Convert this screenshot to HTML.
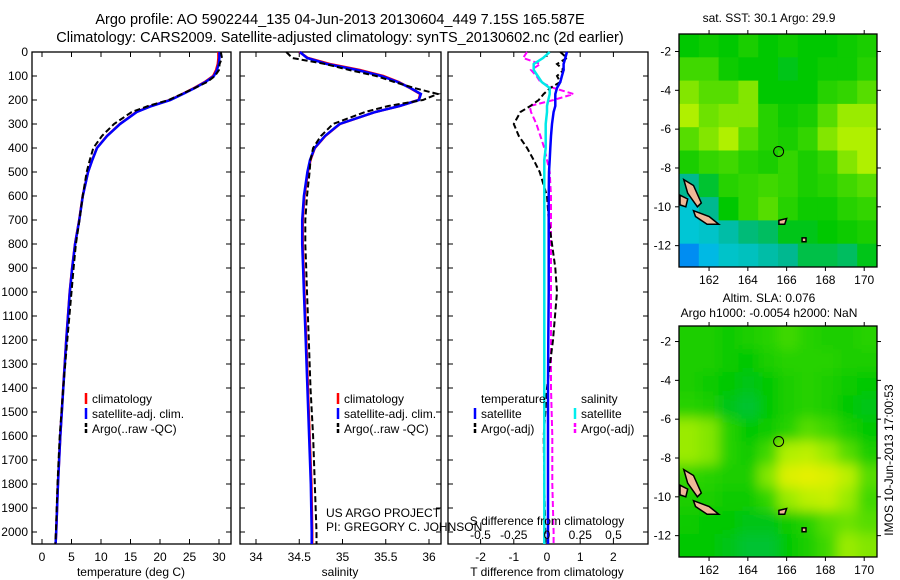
<!DOCTYPE html>
<html><head><meta charset="utf-8"><style>
html,body{margin:0;padding:0;background:#fff;}
svg{display:block;font-family:"Liberation Sans",sans-serif;}
</style></head><body>
<svg id="fig" width="900" height="580" xmlns="http://www.w3.org/2000/svg">
<defs><filter id="blur" x="0" y="0" width="100%" height="100%"><feGaussianBlur stdDeviation="6"/></filter>
<clipPath id="c1"><rect x="679" y="34" width="198" height="233"/></clipPath>
<clipPath id="c2"><rect x="679" y="326" width="198" height="231"/></clipPath></defs>
<g font-size="14.5" text-anchor="middle" fill="#000">
<text x="340" y="24">Argo profile: AO 5902244_135 04-Jun-2013 20130604_449 7.15S 165.587E</text>
<text x="340" y="42">Climatology: CARS2009. Satellite-adjusted climatology: synTS_20130602.nc (2d earlier)</text>
</g>
<g id="layer"></g>
</svg>
<script>
// ---- data ----
const depths = [0,25,50,75,100,125,150,175,200,225,250,300,350,400,450,500,600,700,800,900,1000,1200,1400,1600,1800,2000,2050];
const tempClim = [29.9,29.9,29.8,29.5,29.0,27.6,25.8,23.8,21.7,18.5,16.0,13.2,11.0,9.3,8.5,7.8,6.9,6.3,5.6,5.1,4.7,4.1,3.6,3.1,2.7,2.4,2.3];
const tempSatDiff = [0.6,0.55,0.5,0.5,0.45,0.4,0.3,0.25,0.25,0.25,0.2,0.15,0.12,0.1,0.08,0.06,0.05,0.05,0.05,0.05,0.05,0.04,0.03,0.03,0.03,0.03,0.03];
const tempArgoDiff = [0.4,0.6,0.3,0.5,0.3,0.4,0.1,-0.1,-0.25,-0.5,-0.8,-1.0,-0.85,-0.6,-0.4,-0.22,0,0.05,0.15,0.25,0.3,0.18,0,-0.1,-0.08,-0.05,-0.05];
const salClim = [34.5,34.6,34.85,35.2,35.47,35.65,35.78,35.9,35.88,35.66,35.38,34.97,34.8,34.68,34.63,34.6,34.56,34.54,34.54,34.55,34.56,34.58,34.6,34.62,34.64,34.65,34.65];
const salSatDiff = [0.02,-0.03,-0.1,-0.1,-0.07,-0.04,0.02,0.02,0.01,0,0,-0.01,-0.01,-0.01,-0.02,-0.02,-0.02,-0.02,-0.02,-0.02,-0.02,-0.02,-0.02,-0.02,-0.02,-0.02,-0.02];
const salArgoDiff = [-0.15,-0.18,-0.05,-0.12,-0.08,-0.05,0.05,0.2,0.05,-0.13,-0.12,-0.08,-0.05,-0.02,0,0.02,0.03,0.03,0.03,0.03,0.03,0.03,0.03,0.04,0.04,0.05,0.05];
const depthTicks = [0,100,200,300,400,500,600,700,800,900,1000,1100,1200,1300,1400,1500,1600,1700,1800,1900,2000];
const tempTicks = [0,5,10,15,20,25,30];
const salTicks = [34,34.5,35,35.5,36];
const tdiffTicks = [-2,-1,0,1,2];
const sdiffTicks = [-0.5,-0.25,0,0.25,0.5];
const sdiffLabels = ["-0.5","-0.25","0","0.25","0.5"];
const lonTicks = [162,164,166,168,170];
const latTicks = [-2,-4,-6,-8,-10,-12];
const sstGrid = [
[3,3.1,3,3.2,3,3.1,3,3,3.1,3.2],
[3.5,3.5,3.1,3,3,2.9,3,3.1,3.1,3.3],
[3.8,3.6,3.6,3.8,3,3,3,3.3,3.4,3.6],
[4,3.7,3.8,3.8,3.3,3.1,3.2,3.6,3.9,3.9],
[3.6,3.8,4,3.6,3.3,3.2,3.4,3.8,4,4],
[3.2,3.4,3.5,3.3,3.2,3.4,3.2,3.4,3.8,4],
[2.4,2.8,3.3,3.4,3.5,3.4,3.2,3.3,3.5,3.6],
[1.8,2.4,3,3.4,3.6,3.3,3.1,3.1,3.3,3.4],
[1.8,1.9,2.2,2.5,2.6,2.9,2.9,3,3.1,3.2],
[1.3,1.6,1.9,2,2.2,2.4,2.7,2.7,2.6,2.9]];
const slaGrid = [
[3.2,3.2,3.1,3.2,3.3,3.5,3.3,3.2,3.2,3.3],
[3.2,3.2,3.1,3.0,3.2,3.3,3.3,3.3,3.2,3.2],
[3.2,3.1,3.0,2.9,3.0,3.2,3.3,3.2,3.1,3.0],
[3.3,3.2,2.9,2.8,3.0,3.2,3.3,3.2,3.0,2.9],
[3.9,3.8,3.3,3.0,3.1,3.3,3.6,3.5,3.2,3.0],
[3.9,3.8,3.3,3.1,3.5,4.0,4.1,3.9,3.6,3.2],
[3.4,3.3,3.2,3.2,3.8,4.4,4.5,4.4,4.1,3.6],
[3.2,3.2,3.1,3.1,3.4,3.9,4.1,4.2,3.9,3.5],
[3.1,3.0,3.0,2.9,2.9,3.1,3.3,3.6,3.7,3.6],
[3.0,3.0,2.9,2.8,2.8,3.0,3.2,3.5,3.9,3.8]];
const floatLon = 165.587, floatLat = -7.15;

// ---- helpers ----
const NS="http://www.w3.org/2000/svg";
const layer=document.getElementById('layer');
function mk(tag,attrs,parent){const e=document.createElementNS(NS,tag);for(const k in attrs)e.setAttribute(k,attrs[k]);(parent||layer).appendChild(e);return e;}
function txt(x,y,s,anchor,size,parent){const t=mk('text',{x:x,y:y,'text-anchor':anchor||'middle','font-size':size||12},parent);t.textContent=s;return t;}
const yD = d => 52 + d*0.24;
function pathOf(xs,ys){return xs.map((x,i)=>(i?'L':'M')+x.toFixed(1)+','+ys[i].toFixed(1)).join(' ');}

function panel(name,x0,x1,ticks,labels,xf,showDepth){
  const g=mk('g',{});
  
  
  const r=mk('rect',{x:x0,y:52,width:x1-x0,height:492,fill:'none',stroke:'#000','stroke-width':1.3},g);
  
  
  ticks.forEach((t,i)=>{const x=xf(t);
    mk('line',{x1:x,x2:x,y1:544,y2:539,stroke:'#000'},g);mk('line',{x1:x,x2:x,y1:52,y2:57,stroke:'#000'},g);
    const l=txt(x,561,labels?labels[i]:String(t),'middle',12,g);
    
    });
  depthTicks.forEach(d=>{const y=yD(d);
    mk('line',{x1:x0,x2:x0+5,y1:y,y2:y,stroke:'#000'},g);mk('line',{x1:x1,x2:x1-5,y1:y,y2:y,stroke:'#000'},g);
    if(showDepth){const l=txt(x0-4,y+4,String(d),'end',12,g);
      
      }});
  return g;
}
function series(g,name,xs,color,dash,w){
  const p=mk('path',{d:pathOf(xs,depths.map(yD)),fill:'none',stroke:color,'stroke-width':w||2,'stroke-dasharray':dash||'none'},g);
  
  
}
function legend(g,x,y,items){
  items.forEach((it,i)=>{const yy=y+i*15;
    if(it.c){mk('line',{x1:x,x2:x,y1:yy-10,y2:yy+1,stroke:it.c,'stroke-width':2.5,'stroke-dasharray':it.d||'none'},g);}
    const t=txt(x+6,yy,it.t,'start',12,g);
    
    });
}

// ---- temperature panel ----
const xT = t => 42 + t*5.9;
const gT=panel('temperature-panel',32,231,tempTicks,null,xT,true);
series(gT,'temp-climatology-line',tempClim.map(xT),'#ff0000',null,2.5);
series(gT,'temp-satellite-line',tempClim.map((v,i)=>xT(v+tempSatDiff[i]*0.3)),'#0000ff',null,2.5);
series(gT,'temp-argo-line',tempClim.map((v,i)=>xT(v+tempArgoDiff[i])),'#000','6,3',2);
legend(gT,86,403,[{t:'climatology',c:'#f00'},{t:'satellite-adj. clim.',c:'#00f'},{t:'Argo(..raw -QC)',c:'#000',d:'4,2'}]);
let t1=txt(131,576,'temperature (deg C)','middle',12,gT);

// ---- salinity panel ----
const xS = s => 256 + (s-34)*86.5;
const gS=panel('salinity-panel',240,441,salTicks,null,xS,false);
series(gS,'sal-climatology-line',salClim.map(xS),'#ff0000',null,2.5);
series(gS,'sal-satellite-line',salClim.map((v,i)=>xS(v+salSatDiff[i]*0.3)),'#0000ff',null,2.5);
series(gS,'sal-argo-line',salClim.map((v,i)=>xS(v+salArgoDiff[i])),'#000','6,3',2);
legend(gS,338,403,[{t:'climatology',c:'#f00'},{t:'satellite-adj. clim.',c:'#00f'},{t:'Argo(..raw -QC)',c:'#000',d:'4,2'}]);
let t2=txt(340,576,'salinity','middle',12,gS);
let pr=txt(326,517,'US ARGO PROJECT','start',12,gS);
let pi=txt(326,531,'PI: GREGORY C. JOHNSON','start',12,gS);

// ---- difference panel ----
const xTd = d => 547 + d*33.2;
const xSd = d => 547 + d*133;
const gD=panel('difference-panel',448,648,tdiffTicks,null,xTd,false);
series(gD,'sdiff-argo-line',salArgoDiff.map(xSd),'#ff00ff','6,3',2);
series(gD,'tdiff-argo-line',tempArgoDiff.map(xTd),'#000','6,3',2);
series(gD,'tdiff-satellite-line',tempSatDiff.map(xTd),'#0000ff',null,2.5);
series(gD,'sdiff-satellite-line',salSatDiff.map(xSd),'#00e8e8',null,2.5);
sdiffTicks.forEach((t,i)=>{const l=txt(xSd(t),539,sdiffLabels[i],'middle',12,gD);});
let t3=txt(547,525,'S difference from climatology','middle',12,gD);
let t4=txt(547,576,'T difference from climatology','middle',12,gD);
legend(gD,475,403,[{t:'temperature'},{t:'satellite',c:'#00f'},{t:'Argo(-adj)',c:'#000',d:'4,2'}]);
legend(gD,575,403,[{t:'salinity'},{t:'satellite',c:'#0ee'},{t:'Argo(-adj)',c:'#f0f',d:'4,2'}]);

// ---- maps ----
const stops=[[0,[0,0,128]],[1,[0,96,255]],[1.7,[0,200,224]],[2.4,[0,184,144]],[3,[0,200,0]],[3.5,[64,216,0]],[4,[176,240,0]],[4.6,[240,240,0]]];
function cmap(v){for(let i=1;i<stops.length;i++){if(v<=stops[i][0]){const a=stops[i-1],b=stops[i],f=(v-a[0])/(b[0]-a[0]);return 'rgb('+a[1].map((c,k)=>Math.round(c+f*(b[1][k]-c))).join(',')+')';}}return 'rgb(240,240,0)';}
function map(name,top,bot,latTop,latBot,grid,clip,blur){
  const lonL=160.45,lonR=170.66;
  const xL=lon=>679+(lon-lonL)*(198/(lonR-lonL));
  const yL=lat=>top+(latTop-lat)*((bot-top)/(latTop-latBot));
  const g=mk('g',{});
  
  
  const cg=mk('g',{'clip-path':'url(#'+clip+')'},g);
  const ig=mk('g',blur?{filter:'url(#blur)'}:{},cg);
  const nr=grid.length,nc=grid[0].length,dlat=(latTop-latBot)/nr,dlon=(lonR-lonL)/nc;
  const pad=blur?12:0;
  grid.forEach((row,r)=>row.forEach((v,c)=>{
    const x0=xL(lonL+c*dlon),x1=xL(lonL+(c+1)*dlon),y0=yL(latTop-r*dlat),y1=yL(latTop-(r+1)*dlat);
    const cell=mk('rect',{x:x0-(c==0?pad:0),y:y0-(r==0?pad:0),width:x1-x0+0.6+(c==0||c==nc-1?pad:0),height:y1-y0+0.6+(r==0||r==nr-1?pad:0),fill:cmap(v)},ig);
    
    
  }));
  const isl=[[[160.7,-8.6],[161.2,-8.9],[161.6,-9.8],[161.4,-10],[160.9,-9.3]],[[160.5,-9.4],[160.9,-9.6],[160.8,-10.0],[160.5,-9.9]],[[161.2,-10.2],[162,-10.5],[162.5,-10.9],[161.9,-10.9],[161.3,-10.5]],[[165.6,-10.7],[166.0,-10.6],[165.9,-10.9],[165.6,-10.9]],[[166.8,-11.6],[167.0,-11.6],[167.0,-11.8],[166.8,-11.8]]];
  isl.forEach(p=>{const s=mk('polygon',{points:p.map(q=>xL(q[0]).toFixed(1)+','+yL(q[1]).toFixed(1)).join(' '),fill:'#f0b898',stroke:'#000','stroke-width':1.5},cg);
    
    });
  const ci=mk('circle',{cx:xL(floatLon),cy:yL(floatLat),r:5,fill:'none',stroke:'#000','stroke-width':1},g);
  
  
  mk('rect',{x:679,y:top,width:198,height:bot-top,fill:'none',stroke:'#000','stroke-width':1.3},g);
  lonTicks.forEach(l=>{const x=xL(l);mk('line',{x1:x,x2:x,y1:top,y2:top-4,stroke:'#000'},g);mk('line',{x1:x,x2:x,y1:bot,y2:bot+4,stroke:'#000'},g);
    const t=txt(x,bot+17,String(l),'middle',12,g);});
  latTicks.forEach(l=>{const y=yL(l);mk('line',{x1:679,x2:675,y1:y,y2:y,stroke:'#000'},g);mk('line',{x1:877,x2:881,y1:y,y2:y,stroke:'#000'},g);
    const t=txt(671,y+4,String(l),'end',12,g);});
  return g;
}
const m1=map('sst-map',34,267,-1.1,-13.1,sstGrid,'c1',false);
let mt1=txt(769,22,'sat. SST: 30.1 Argo: 29.9','middle',12,m1);
const m2=map('sla-map',326,557,-1.2,-13.1,slaGrid,'c2',true);
let mt2=txt(769,302,'Altim. SLA: 0.076','middle',12,m2);
let mt3=txt(769,317,'Argo h1000: -0.0054 h2000: NaN','middle',12,m2);
let st=txt(0,0,'IMOS 10-Jun-2013 17:00:53','middle',12);st.setAttribute('transform','translate(893,460) rotate(-90)');


</script>
</body></html>
